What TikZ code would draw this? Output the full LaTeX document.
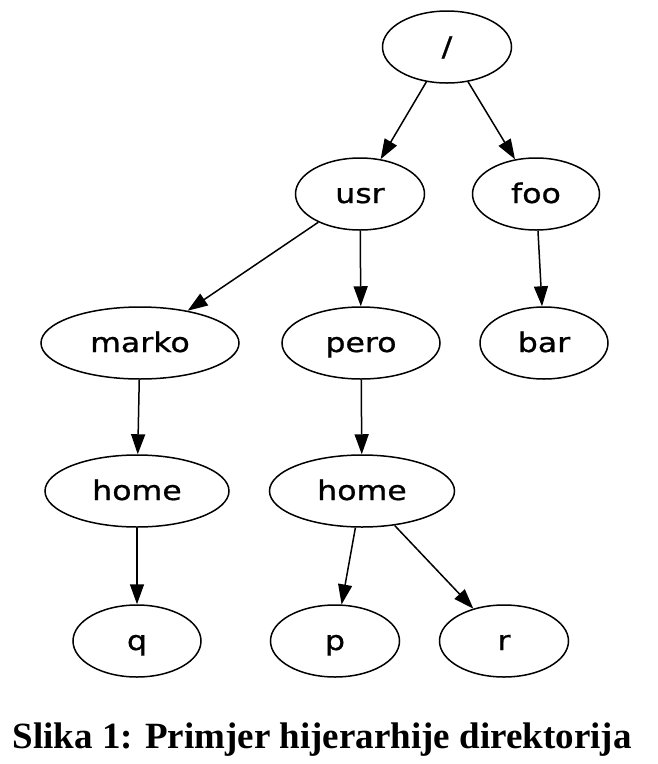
\documentclass[tikz,border=0pt]{standalone}
\usepackage{fontspec}
\usepackage{graphicx}
\setmainfont{Liberation Serif}
\newfontfamily\gvfont[FakeBold=0.8]{DejaVu Sans}
\usetikzlibrary{shapes.geometric,arrows.meta}
\newcommand\lbl[1]{\scalebox{1.17}[1]{#1}}
\begin{document}
\begin{tikzpicture}[x=1pt,y=-1pt,
  gv/.style={ellipse,draw,line width=1.5pt,inner sep=0pt,minimum height=72pt,
    text height=20pt,text depth=2pt,
    font=\gvfont\fontsize{27}{27}\selectfont},
  edge/.style={line width=1.5pt,-{Triangle[length=20pt,width=14pt]}}]
\useasboundingbox (0,0) rectangle (658,764);
\node[gv,minimum width=129pt] (root) at (447,47) {\lbl{/}};
\node[gv,minimum width=129pt] (usr) at (360,194) {\lbl{usr}};
\node[gv,minimum width=127pt] (foo) at (536,194) {\lbl{foo}};
\node[gv,minimum width=198pt] (marko) at (140,343) {\lbl{marko}};
\node[gv,minimum width=158pt] (pero) at (361,343) {\lbl{pero}};
\node[gv,minimum width=128pt] (bar) at (544,343) {\lbl{bar}};
\node[gv,minimum width=184pt] (homeL) at (137,491) {\lbl{home}};
\node[gv,minimum width=185pt] (homeR) at (362,491) {\lbl{home}};
\node[gv,minimum width=128pt] (q) at (137,641) {\lbl{q}};
\node[gv,minimum width=129pt] (p) at (335,641) {\lbl{p}};
\node[gv,minimum width=129pt] (r) at (504,641) {\lbl{r}};
\draw[edge] (root) -- (usr);
\draw[edge] (root) -- (foo);
\draw[edge] (usr) -- (marko);
\draw[edge] (usr) -- (pero);
\draw[edge] (foo) -- (bar);
\draw[edge] (marko) -- (homeL);
\draw[edge] (pero) -- (homeR);
\draw[edge] (homeL) -- (q);
\draw[edge] (homeR) -- (p);
\draw[edge] (homeR) -- (r);
\node[anchor=base,font=\bfseries\fontsize{37}{37}\selectfont,inner sep=0pt] (cap) at (322,748) {Slika 1: Primjer hijerarhije direktorija};
\end{tikzpicture}
\end{document}
